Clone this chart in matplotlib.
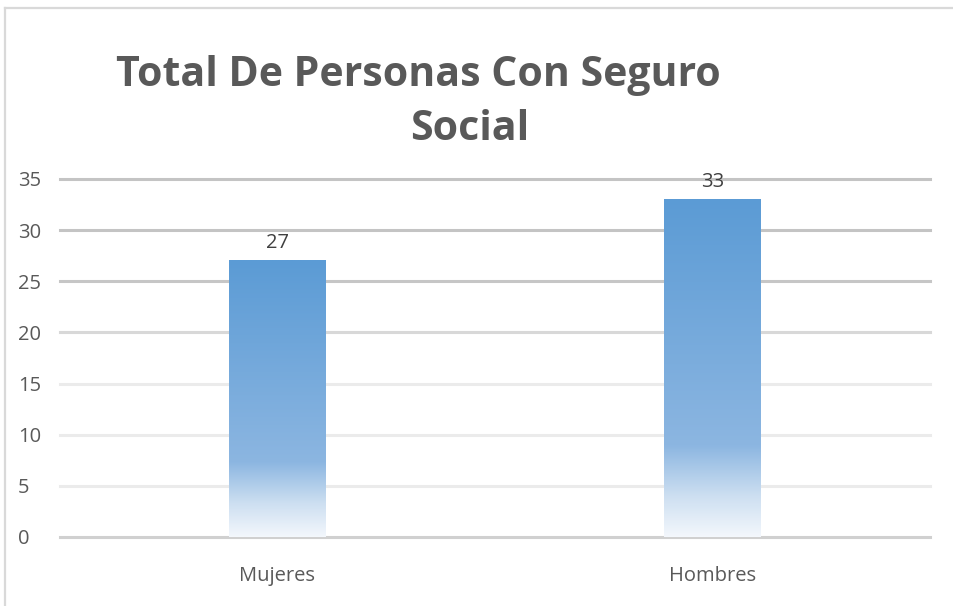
import numpy as np
import matplotlib
matplotlib.use("Agg")
import matplotlib.pyplot as plt
from matplotlib.colors import LinearSegmentedColormap
from matplotlib.lines import Line2D

categories = ["Mujeres", "Hombres"]
values = [27, 33]
yticks = [0, 5, 10, 15, 20, 25, 30, 35]
title_line1 = "Total De Personas Con Seguro"
title_line2 = "Social"

W, H = 954, 606
fig = plt.figure(figsize=(W / 100, H / 100), dpi=100)
fig.patch.set_facecolor("white")

# chart frame (left + top edges visible)
fig.add_artist(Line2D([5 / W, 5 / W], [0, 1 - 8 / H], color="#D9D9D9", lw=1.6))
fig.add_artist(Line2D([5 / W, 1], [1 - 8 / H, 1 - 8 / H], color="#D9D9D9", lw=1.6))

left, right, top_px, bot_px = 60, 930, 179, 537
ax = fig.add_axes([left / W, (H - bot_px) / H, (right - left) / W, (bot_px - top_px) / H])
for s in ax.spines.values():
    s.set_visible(False)

grid_colors = {0: "#D0D0D0", 5: "#EBEBEB", 10: "#EBEBEB", 15: "#EBEBEB",
               20: "#D8D8D8", 25: "#C6C6C6", 30: "#C4C4C4", 35: "#C4C4C4"}
for t in yticks:
    ax.axhline(t, color=grid_colors[t], lw=2.2, zorder=0, clip_on=False)

ax.set_yticks(yticks)
ax.set_yticklabels([str(t) for t in yticks], fontsize=14.5, color="#595959", family="Open Sans")
ax.tick_params(axis="y", length=0, pad=42 * 0.72)
for lab in ax.get_yticklabels():
    lab.set_horizontalalignment("left")

ax.set_xticks(range(len(categories)))
ax.set_xticklabels(categories, fontsize=14.5, color="#595959", family="Open Sans")
ax.tick_params(axis="x", length=0, pad=21)

cmap = LinearSegmentedColormap.from_list(
    "grad",
    [(0.0, (243 / 255, 247 / 255, 252 / 255)),
     (0.12, (205 / 255, 223 / 255, 241 / 255)),
     (0.27, (140 / 255, 182 / 255, 225 / 255)),
     (1.0, (91 / 255, 155 / 255, 213 / 255))])
grad = np.linspace(0, 1, 256).reshape(-1, 1)

bw = 0.222
for i, v in enumerate(values):
    ax.imshow(grad, cmap=cmap, origin="lower", aspect="auto",
              extent=[i - bw / 2, i + bw / 2, 0, v], zorder=2, interpolation="bilinear")
    ax.text(i, v + 1.75, str(v), ha="center", va="center", fontsize=14.5,
            color="#404040", family="Open Sans", zorder=3)
ax.set_xlim(-0.5, 1.5)
ax.set_ylim(0, 35)

fig.text(418.5 / W, 1 - 76 / H, title_line1, ha="center", va="center",
         fontsize=29.5, fontweight="bold", color="#595959", family="Open Sans")
fig.text(470 / W, 1 - 130 / H, title_line2, ha="center", va="center",
         fontsize=29.5, fontweight="bold", color="#595959", family="Open Sans")

fig.savefig("out.png", dpi=100)
